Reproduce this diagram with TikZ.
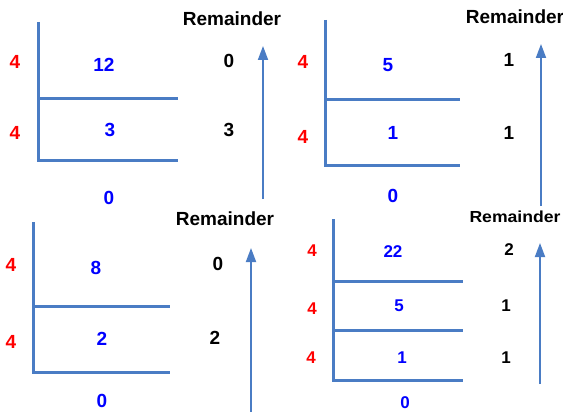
\documentclass[tikz,border=0pt]{standalone}
\usepackage{fontspec}
\setmainfont{Liberation Sans}
\usetikzlibrary{arrows.meta}
\definecolor{linecol}{RGB}{74,124,196}
\definecolor{divred}{RGB}{255,0,0}
\definecolor{quotblue}{RGB}{0,0,255}
\tikzset{
  divline/.style={draw=linecol, line width=3pt},
  uparrow/.style={draw=linecol, line width=1.8pt, -{Triangle[length=14pt,width=10pt]}},
  divisor/.style={text=divred, font=\bfseries\fontsize{19}{19}\selectfont, inner sep=0pt},
  quot/.style={text=quotblue, font=\bfseries\fontsize{19}{19}\selectfont, inner sep=0pt},
  rem/.style={text=black, font=\bfseries\fontsize{19}{19}\selectfont, inner sep=0pt},
  remhead/.style={text=black, font=\bfseries\fontsize{19}{19}\selectfont, inner sep=0pt},
  divisorS/.style={divisor, font=\bfseries\fontsize{17}{17}\selectfont},
  quotS/.style={quot, font=\bfseries\fontsize{17}{17}\selectfont},
  remS/.style={rem, font=\bfseries\fontsize{17}{17}\selectfont},
  remheadS/.style={remhead, font=\bfseries\fontsize{16}{16}\selectfont, xscale=1.1},
}
\begin{document}
\begin{tikzpicture}[x=1pt, y=-1pt]
\useasboundingbox (0,0) rectangle (563,412);
% ---------- Panel 1 ----------
\draw[divline] (38,22) -- (38,160) -- (178,160);
\draw[divline] (38,99) -- (178,99);
\node[divisor] (p1d1) at (15,62) {4};
\node[divisor] (p1d2) at (15,133) {4};
\node[quot] (p1q1) at (104,65) {12};
\node[quot] (p1q2) at (110,130) {3};
\node[quot] (p1q3) at (109,198) {0};
\node[remhead] (p1h) at (232,19) {Remainder};
\node[rem] (p1r1) at (229,61) {0};
\node[rem] (p1r2) at (229,130) {3};
\coordinate (p1a0) at (263,199);
\coordinate (p1a1) at (263,46);
\draw[uparrow] (p1a0) -- (p1a1);
% ---------- Panel 2 ----------
\draw[divline] (325,20) -- (325,165) -- (460,165);
\draw[divline] (325,100) -- (460,100);
\node[divisor] (p2d1) at (303,62) {4};
\node[divisor] (p2d2) at (303,137) {4};
\node[quot] (p2q1) at (388,65) {5};
\node[quot] (p2q2) at (393,133) {1};
\node[quot] (p2q3) at (393,196) {0};
\node[remhead] (p2h) at (515,17) {Remainder};
\node[rem] (p2r1) at (509,60) {1};
\node[rem] (p2r2) at (509,133) {1};
\coordinate (p2a0) at (541,206);
\coordinate (p2a1) at (541,44);
\draw[uparrow] (p2a0) -- (p2a1);
% ---------- Panel 3 ----------
\draw[divline] (33,222) -- (33,372) -- (170,372);
\draw[divline] (33,306) -- (170,306);
\node[divisor] (p3d1) at (11,265) {4};
\node[divisor] (p3d2) at (11,342) {4};
\node[quot] (p3q1) at (96,268) {8};
\node[quot] (p3q2) at (102,339) {2};
\node[quot] (p3q3) at (102,401) {0};
\node[remhead] (p3h) at (225,219) {Remainder};
\node[rem] (p3r1) at (218,264) {0};
\node[rem] (p3r2) at (215,338) {2};
\coordinate (p3a0) at (251,414);
\coordinate (p3a1) at (251,248);
\draw[uparrow] (p3a0) -- (p3a1);
% ---------- Panel 4 ----------
\draw[divline] (333,219) -- (333,380) -- (463,380);
\draw[divline] (333,281) -- (463,281);
\draw[divline] (333,330) -- (463,330);
\node[divisorS] (p4d1) at (312,251) {4};
\node[divisorS] (p4d2) at (312,309) {4};
\node[divisorS] (p4d3) at (311,358) {4};
\node[quotS] (p4q1) at (393,252) {22};
\node[quotS] (p4q2) at (399,306) {5};
\node[quotS] (p4q3) at (402,358) {1};
\node[quotS] (p4q4) at (405,403) {0};
\node[remheadS] (p4h) at (515,217) {Remainder};
\node[remS] (p4r1) at (509,250) {2};
\node[remS] (p4r2) at (506,306) {1};
\node[remS] (p4r3) at (506,358) {1};
\coordinate (p4a0) at (540,384);
\coordinate (p4a1) at (540,243);
\draw[uparrow] (p4a0) -- (p4a1);
\end{tikzpicture}
\end{document}
